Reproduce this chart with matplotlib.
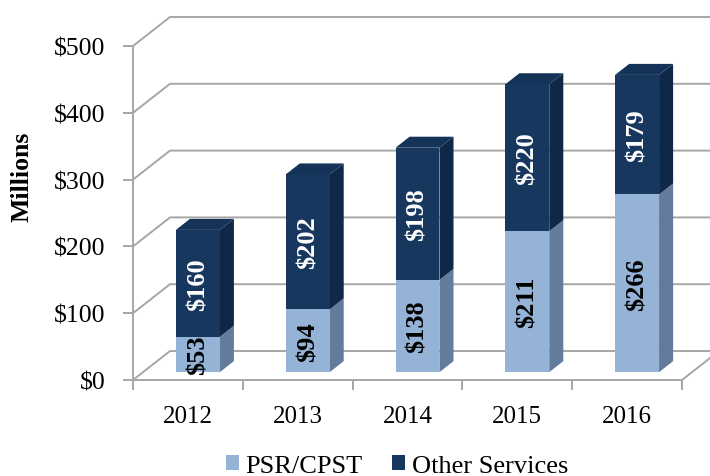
import matplotlib.pyplot as plt
from matplotlib.patches import Polygon, Patch

plt.rcParams['font.family'] = ['Liberation Serif', 'DejaVu Serif']

years = ['2012', '2013', '2014', '2015', '2016']
psr = [53, 94, 138, 211, 266]
other = [160, 202, 198, 220, 179]
yticks = [0, 100, 200, 300, 400, 500]

light = '#95b3d7'
light_side = '#637c9b'
dark = '#17375e'
dark_side = '#102848'
dark_top = '#153358'
grid = '#a6a6a6'

# depth of the "3d" box, in data units
DX, DY = 0.337, 43.4
# bar placed between these fractions of depth
F0, F1 = 0.27, 0.65
W = 0.40

fig = plt.figure(figsize=(7.1, 4.77), dpi=100)
ax = fig.add_axes([133/710, 1-381/477, 549/710, 334/477])
ax.set_xlim(-0.5, 4.5)
ax.set_ylim(0, 500)

# back wall gridlines + floor
for v in yticks:
    ax.plot([-0.5, -0.5+DX, 4.5+DX], [v, v+DY, v+DY], color=grid, lw=1.4, clip_on=False, zorder=1)
ax.plot([4.5, 4.5+DX], [0, DY], color=grid, lw=1.4, clip_on=False, zorder=1)


def box(x0, y0, y1, front, side, top=None):
    ox, oy = F0*DX, F0*DY
    d = (F1-F0)
    fx, fy = d*DX, d*DY
    x1 = x0 + W
    ax.add_patch(Polygon([(x1+ox, y0+oy), (x1+ox+fx, y0+oy+fy), (x1+ox+fx, y1+oy+fy), (x1+ox, y1+oy)],
                         closed=True, fc=side, ec='none', clip_on=False, zorder=3))
    ax.add_patch(Polygon([(x0+ox, y0+oy), (x1+ox, y0+oy), (x1+ox, y1+oy), (x0+ox, y1+oy)],
                         closed=True, fc=front, ec='none', clip_on=False, zorder=3))
    if top:
        ax.add_patch(Polygon([(x0+ox, y1+oy), (x1+ox, y1+oy), (x1+ox+fx, y1+oy+fy), (x0+ox+fx, y1+oy+fy)],
                             closed=True, fc=top, ec='none', clip_on=False, zorder=3))


for i in range(len(years)):
    x0 = i - W/2
    b, t = psr[i], psr[i] + other[i]
    box(x0, 0, b, light, light_side)
    box(x0, b, t, dark, dark_side, dark_top)
    cx = i + F0*DX
    ax.text(cx, b/2 + F0*DY, '$%d' % psr[i], rotation=90, ha='center', va='center',
            fontsize=19, fontweight='bold', color='black', zorder=4)
    ax.text(cx, b + other[i]/2 + F0*DY, '$%d' % other[i], rotation=90, ha='center', va='center',
            fontsize=19, fontweight='bold', color='white', zorder=4)

for s in ['top', 'right']:
    ax.spines[s].set_visible(False)
for s in ['left', 'bottom']:
    ax.spines[s].set_color(grid)
    ax.spines[s].set_linewidth(1.4)
ax.patch.set_visible(False)

ax.set_yticks(yticks, ['$%d' % v for v in yticks])
ax.tick_params(axis='y', length=7, width=1.4, color=grid, pad=13, labelsize=18.5)
ax.set_xticks(range(len(years)), years)
ax.set_xticks([i - 0.5 for i in range(len(years)+1)], minor=True)
ax.tick_params(axis='x', which='major', length=0, pad=18, labelsize=18)
ax.tick_params(axis='x', which='minor', length=7, width=1.4, color=grid)

fig.text(22/710, 1-177/477, 'Millions', rotation=90, ha='center', va='center',
         fontsize=18.5, fontweight='bold')

handles = [Patch(fc=light, ec='none', label='PSR/CPST'),
           Patch(fc=dark, ec='none', label='Other Services')]
fig.legend(handles=handles, loc='center', bbox_to_anchor=(397/710, 1-467/477), ncol=2,
           frameon=False, fontsize=19, handlelength=0.5, handleheight=0.5,
           handletextpad=0.25, columnspacing=1.1, borderpad=0, borderaxespad=0)

fig.savefig('out.png', dpi=100)
